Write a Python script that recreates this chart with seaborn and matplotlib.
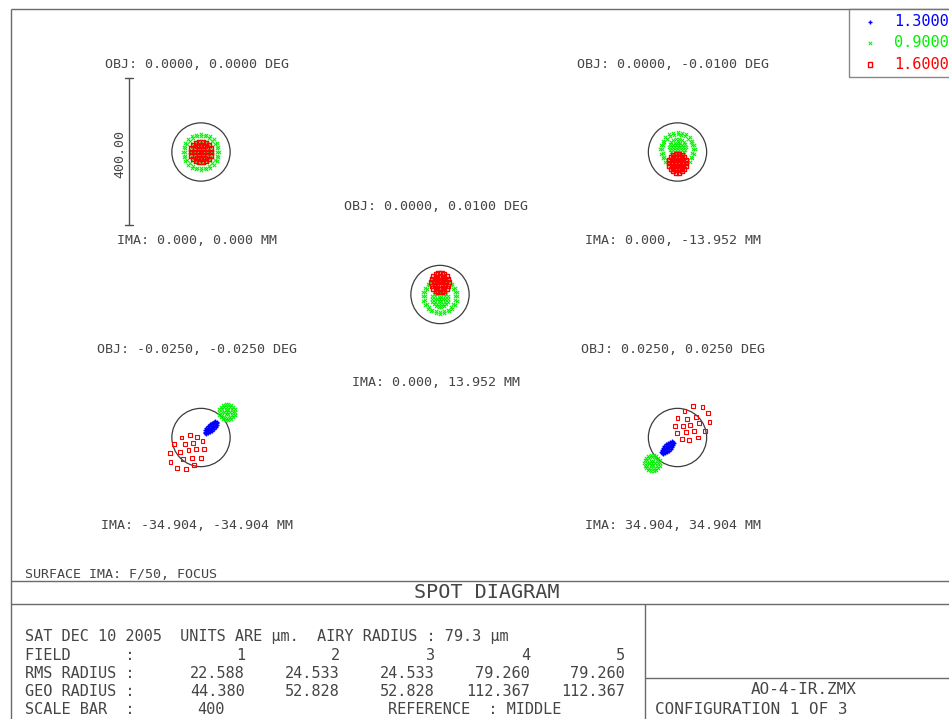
import numpy as np
import pandas as pd
import matplotlib
matplotlib.use('Agg')
import matplotlib.pyplot as plt
import seaborn as sns
from matplotlib.patches import Circle
from matplotlib.font_manager import FontProperties

# wavelengths (um), colours and markers as in the Zemax legend
WAVES = ['1.3000', '0.9000', '1.6000']
WAVE_COLORS = ['#0000ff', '#00f000', '#ff0000']
WAVE_MARKERS = ['+', 'x', 's']

FIELDS = [1, 2, 3, 4, 5]
OBJ_LABELS = ['OBJ: 0.0000, 0.0000 DEG', 'OBJ: 0.0000, -0.0100 DEG',
              'OBJ: 0.0000, 0.0100 DEG', 'OBJ: -0.0250, -0.0250 DEG',
              'OBJ: 0.0250, 0.0250 DEG']
IMA_LABELS = ['IMA: 0.000, 0.000 MM', 'IMA: 0.000, -13.952 MM',
              'IMA: 0.000, 13.952 MM', 'IMA: -34.904, -34.904 MM',
              'IMA: 34.904, 34.904 MM']
RMS_RADIUS = [22.588, 24.533, 24.533, 79.260, 79.260]
GEO_RADIUS = [44.380, 52.828, 52.828, 112.367, 112.367]
AIRY_RADIUS = 79.3   # um
SCALE_BAR = 400      # um

RING_U = [1, .966, .866, .707, .5, .259, 0, -.259, -.5, -.707, -.866, -.966,
          -1, -.966, -.866, -.707, -.5, -.259, 0, .259, .5, .707, .866, .966]
RING_V = [0, .259, .5, .707, .866, .966, 1, .966, .866, .707, .5, .259,
          0, -.259, -.5, -.707, -.866, -.966, -1, -.966, -.866, -.707, -.5, -.259]
DISK_U = [0, .33, .165, -.165, -.33, -.165, .165,
          .67, .58, .335, 0, -.335, -.58, -.67, -.58, -.335, 0, .335, .58,
          1, .94, .766, .5, .174, -.174, -.5, -.766, -.94, -1, -.94, -.766,
          -.5, -.174, .174, .5, .766, .94]
DISK_V = [0, 0, .286, .286, 0, -.286, -.286,
          0, .335, .58, .67, .58, .335, 0, -.335, -.58, -.67, -.58, -.335,
          0, .342, .643, .866, .985, .985, .866, .643, .342, 0, -.342, -.643,
          -.866, -.985, -.985, -.866, -.643, -.342]

# spot clusters per field: centre (um), semi axes (um), tilt (deg)
CL_FIELD = [1, 1, 1, 1, 2, 2, 2, 2, 3, 3, 3, 3, 4, 4, 5, 5]
CL_WAVE = ['0.9000', '0.9000', '0.9000', '1.6000',
           '0.9000', '0.9000', '0.9000', '1.6000',
           '0.9000', '0.9000', '0.9000', '1.6000',
           '1.3000', '0.9000', '1.3000', '0.9000']
CL_KIND = ['ring', 'ring', 'disk', 'disk', 'ring', 'ring', 'disk', 'disk',
           'ring', 'ring', 'disk', 'disk', 'disk', 'disk', 'disk', 'disk']
CL_X = [0, 0, 0, 0, 0, 0, 0, 0, 0, 0, 0, 0, 27, 71, -27, -69]
CL_Y = [0, 0, 0, 0, 7, 7, 13, -30, -5, -5, -12, 33, 27, 69, -27, -69]
CL_A = [49, 44, 30, 28, 47, 42, 22, 24, 47, 42, 22, 24, 22, 22, 22, 22]
CL_B = [49, 44, 30, 28, 47, 42, 22, 26, 47, 42, 22, 26, 9, 22, 9, 22]
CL_ANG = [0, 0, 0, 0, 0, 0, 0, 0, 0, 0, 0, 0, 45, 0, 45, 0]

# loose 1.6 um rays in the two corner fields (um)
F4_RED_X = [-53, -29, -10, 4, -73, -43, -21, -34, -14, 7, -56, -84, -49, -25,
            0, -83, -18, -66, -42]
F4_RED_Y = [0, 6, 1, -10, -18, -18, -16, -35, -32, -32, -39, -43, -58, -55,
            -55, -66, -76, -84, -86]
F5_RED_X = [43, 68, 19, 84, 0, 26, 50, 87, -6, 14, 35, 58, -2, 22, 44, 76,
            11, 31, 55]
F5_RED_Y = [86, 82, 73, 66, 54, 51, 55, 41, 31, 32, 34, 39, 11, 15, 18, 18,
            -3, -8, 0]

# build long table of spots
templates = {'ring': (np.array(RING_U), np.array(RING_V)),
             'disk': (np.array(DISK_U), np.array(DISK_V))}
parts = []
for f, w, k, cx, cy, a, b, ang in zip(CL_FIELD, CL_WAVE, CL_KIND, CL_X, CL_Y,
                                      CL_A, CL_B, CL_ANG):
    u, v = templates[k]
    t = np.deg2rad(ang)
    parts.append(pd.DataFrame({'field': f, 'wave': w, 'kind': k,
                               'x': cx + a * u * np.cos(t) - b * v * np.sin(t),
                               'y': cy + a * u * np.sin(t) + b * v * np.cos(t)}))
parts.append(pd.DataFrame({'field': 4, 'wave': '1.6000', 'kind': 'ray',
                           'x': F4_RED_X, 'y': F4_RED_Y}))
parts.append(pd.DataFrame({'field': 5, 'wave': '1.6000', 'kind': 'ray',
                           'x': F5_RED_X, 'y': F5_RED_Y}))
spots = pd.concat(parts, ignore_index=True)

# page layout in pixels
W, H = 949, 719
PX_PER_UM = 0.3675
FIELD_CX = [201, 677.5, 440, 201, 677.5]
FIELD_CY = [152, 152, 294.5, 437.5, 437.5]
TXT = '#454545'
LINE = '#6a6a6a'
MONO = 'DejaVu Sans Mono'

sns.set_style('white')
plt.rcParams['font.family'] = [MONO, 'DejaVu Sans']

fig = plt.figure(figsize=(W / 100, H / 100), dpi=100)
ax = fig.add_axes([0, 0, 1, 1])
ax.set_xlim(0, W)
ax.set_ylim(H, 0)
ax.axis('off')

# frame
for xs, ys in [([11, W], [9, 9]), ([11, 11], [9, H]), ([11, W], [581, 581]),
               ([11, W], [604, 604]), ([645, 645], [604, H]), ([645, W], [678, 678])]:
    ax.plot(xs, ys, color=LINE, lw=1.0, solid_capstyle='butt')

# spot fields
half = 60
handles = {}
for i, f in enumerate(FIELDS):
    cx, cy = FIELD_CX[i], FIELD_CY[i]
    sa = fig.add_axes([(cx - half) / W, 1 - (cy + half) / H, 2 * half / W, 2 * half / H])
    lim = half / PX_PER_UM
    sa.set_xlim(-lim, lim)
    sa.set_ylim(-lim, lim)
    sa.axis('off')
    sa.add_patch(Circle((0, 0), AIRY_RADIUS, fill=False, ec='#3c3c3c', lw=0.9, zorder=1))
    for w, c, m in zip(WAVES, WAVE_COLORS, WAVE_MARKERS):
        d = spots[(spots.field == f) & (spots.wave == w)]
        if d.empty:
            continue
        if m == 's':
            dense = d.kind.iloc[0] == 'disk'
            kw = dict(marker='s', s=9 if dense else 8, facecolor='none', edgecolor=c,
                      linewidth=1.0 if dense else 0.8)
        elif m == 'x':
            kw = dict(marker='x', s=6, color=c, linewidth=0.7)
        else:
            kw = dict(marker='+', s=10, color=c, linewidth=1.0)
        sns.scatterplot(data=d, x='x', y='y', ax=sa, legend=False, label=w,
                        zorder=2, **kw)
        handles.setdefault(w, sa.collections[-1])
    if sa.get_legend():
        sa.get_legend().remove()

    ax.text(cx - 4, cy - 88, OBJ_LABELS[i], ha='center', va='center',
            fontsize=9.6, color=TXT)
    ax.text(cx - 4, cy + 88, IMA_LABELS[i], ha='center', va='center',
            fontsize=9.6, color=TXT)

# scale bar
y0 = 78
y1 = y0 + SCALE_BAR * PX_PER_UM
ax.plot([129, 129], [y0, y1], color='#505050', lw=1.0)
ax.plot([125, 133], [y0, y0], color='#505050', lw=1.0)
ax.plot([125, 133], [y1, y1], color='#505050', lw=1.0)
ax.text(120, (y0 + y1) / 2 + 3, f'{SCALE_BAR:.2f}', rotation=90, ha='center',
        va='center', fontsize=9.6, color=TXT)

# legend
leg = fig.legend([handles[w] for w in WAVES], WAVES, loc='upper left',
                 bbox_to_anchor=(849 / W, 1 - 9 / H), bbox_transform=fig.transFigure,
                 frameon=True, fancybox=False, edgecolor=LINE, borderaxespad=0,
                 prop=FontProperties(family=MONO, size=11), handlelength=2.0,
                 handletextpad=0.6, labelspacing=0.4, borderpad=0.35)
leg.get_frame().set_linewidth(1.0)
for t, c in zip(leg.get_texts(), WAVE_COLORS):
    t.set_color(c)

# bottom block
ax.text(25, 574, 'SURFACE IMA: F/50, FOCUS', ha='left', va='center',
        fontsize=9.6, color=TXT)
ax.text(487, 592, 'SPOT DIAGRAM', ha='center', va='center', fontsize=14.5, color=TXT)

rows_y = [637, 655, 673, 691, 709]
col_right = [245, 340, 435, 530, 625]
ax.text(25, rows_y[0], 'SAT DEC 10 2005  UNITS ARE µm.  AIRY RADIUS : %.1f µm' % AIRY_RADIUS,
        ha='left', va='center', fontsize=11, color=TXT)
ax.text(25, rows_y[1], 'FIELD      :', ha='left', va='center', fontsize=11, color=TXT)
ax.text(25, rows_y[2], 'RMS RADIUS :', ha='left', va='center', fontsize=11, color=TXT)
ax.text(25, rows_y[3], 'GEO RADIUS :', ha='left', va='center', fontsize=11, color=TXT)
ax.text(25, rows_y[4], 'SCALE BAR  :', ha='left', va='center', fontsize=11, color=TXT)
for j in range(len(FIELDS)):
    ax.text(col_right[j], rows_y[1], str(FIELDS[j]), ha='right', va='center',
            fontsize=11, color=TXT)
    ax.text(col_right[j], rows_y[2], '%.3f' % RMS_RADIUS[j], ha='right', va='center',
            fontsize=11, color=TXT)
    ax.text(col_right[j], rows_y[3], '%.3f' % GEO_RADIUS[j], ha='right', va='center',
            fontsize=11, color=TXT)
ax.text(225, rows_y[4], str(SCALE_BAR), ha='right', va='center', fontsize=11, color=TXT)
ax.text(388, rows_y[4], 'REFERENCE  : MIDDLE', ha='left', va='center', fontsize=11, color=TXT)

ax.text(804, 689, 'AO-4-IR.ZMX', ha='center', va='center', fontsize=11.5, color=TXT)
ax.text(655, 709, 'CONFIGURATION 1 OF 3', ha='left', va='center', fontsize=11.5, color=TXT)

fig.savefig('out.png', dpi=100)
